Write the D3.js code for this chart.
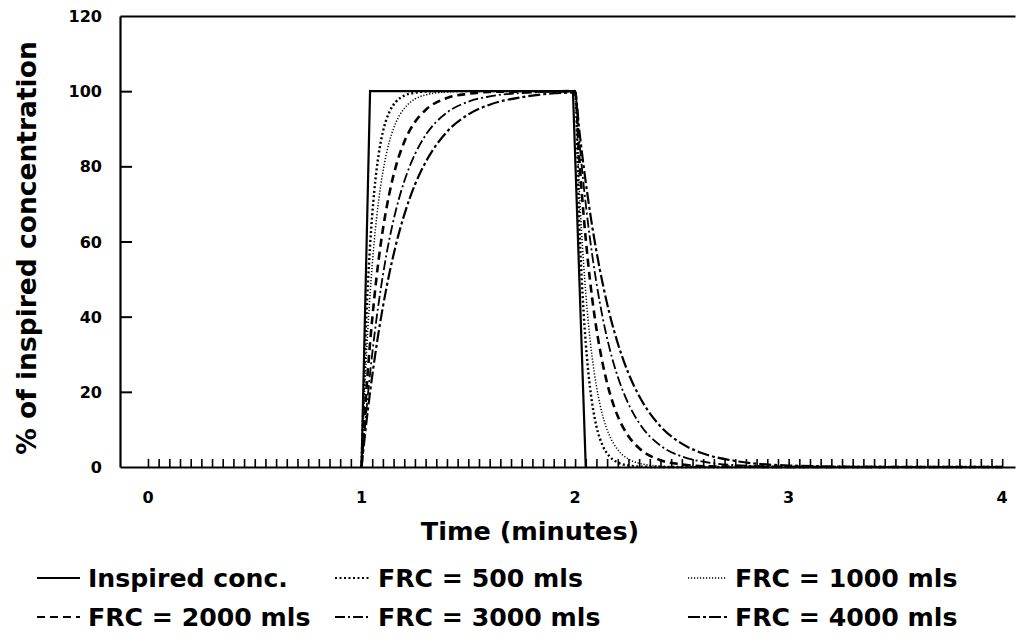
<!DOCTYPE html>
<html lang="en">
<head>
<meta charset="utf-8">
<title>washin washout</title>
<script src="https://d3js.org/d3.v7.min.js"></script>
<style>
body { margin: 0; background: #fff; }
text { font-family: "DejaVu Sans", sans-serif; fill: #000; }
.axis path, .axis line { stroke: #000; }
</style>
</head>
<body>
<script>
// inspired concentration (square step)
var inspTime  = [1.00, 1.04, 1.99, 2.05];
var inspValue = [0, 100, 100, 0];

// FRC curves at these times (minutes)
var frcTime = [1.00, 1.02, 1.04, 1.06, 1.08, 1.10, 1.13, 1.16, 1.20, 1.25, 1.30, 1.40, 1.50, 1.60, 1.75, 2.00,
               2.02, 2.04, 2.06, 2.08, 2.10, 2.13, 2.16, 2.20, 2.25, 2.30, 2.40, 2.50, 2.60, 2.75, 3.00, 3.50, 4.00];
var frc500  = [0, 35.9, 58.9, 73.6, 83.1, 89.2, 94.4, 97.1, 98.8, 99.6, 99.9, 100, 100, 100, 100, 100,
               64.1, 41.1, 26.4, 16.9, 10.8, 5.6, 2.9, 1.2, 0.4, 0.1, 0, 0, 0, 0, 0, 0, 0];
var frc1000 = [0, 26.5, 46.0, 60.3, 70.8, 78.5, 86.5, 91.5, 95.4, 97.9, 99.0, 99.8, 100, 100, 100, 100,
               73.5, 54.0, 39.7, 29.2, 21.5, 13.5, 8.5, 4.6, 2.1, 1.0, 0.2, 0, 0, 0, 0, 0, 0];
var frc2000 = [0, 18.1, 33.0, 45.1, 55.1, 63.2, 72.7, 79.8, 86.5, 91.8, 95.0, 98.2, 99.3, 99.8, 99.9, 100,
               81.9, 67.0, 54.9, 44.9, 36.8, 27.3, 20.2, 13.5, 8.2, 5.0, 1.8, 0.7, 0.2, 0.1, 0, 0, 0];
var frc3000 = [0, 13.3, 24.9, 34.9, 43.5, 51.0, 60.5, 68.1, 76.0, 83.2, 88.3, 94.3, 97.2, 98.6, 99.5, 99.9,
               86.7, 75.1, 65.1, 56.5, 49.0, 39.5, 31.9, 24.0, 16.8, 11.7, 5.7, 2.8, 1.4, 0.5, 0.1, 0, 0];
var frc4000 = [0, 10.5, 19.9, 28.3, 35.9, 42.6, 51.4, 58.9, 67.1, 75.1, 81.1, 89.2, 93.8, 96.4, 98.4, 99.6,
               89.5, 80.1, 71.7, 64.1, 57.4, 48.6, 41.1, 32.9, 24.9, 18.9, 10.8, 6.2, 3.6, 1.6, 0.4, 0, 0];

var xLabels = [0, 1, 2, 3, 4];
var yLabels = [0, 20, 40, 60, 80, 100, 120];
var legendNames = ["Inspired conc.", "FRC = 500 mls", "FRC = 1000 mls",
                   "FRC = 2000 mls", "FRC = 3000 mls", "FRC = 4000 mls"];

var W = 1019, H = 644;
var svg = d3.select("body").append("svg").attr("width", W).attr("height", H);

var x = d3.scaleLinear().domain([-0.131, 4.06]).range([120, 1015]);
var y = d3.scaleLinear().domain([0, 120]).range([467, 16]);

// line styles: solid, coarse dots, fine dots, dashes, long dash, dash-dot
var styles = [
  {dash: null,          w: 2.2},
  {dash: "2,2.5",       w: 2.4},
  {dash: "1.2,1.8",     w: 1.5},
  {dash: "8,5",         w: 2.6},
  {dash: "10,3,2,3",    w: 1.8},
  {dash: "12,3,3,3",    w: 2.2}
];

var series = [
  {t: inspTime, v: inspValue},
  {t: frcTime, v: frc500},
  {t: frcTime, v: frc1000},
  {t: frcTime, v: frc2000},
  {t: frcTime, v: frc3000},
  {t: frcTime, v: frc4000}
];

// axes
var minor = d3.range(0, 81).map(function(i){ return i * 0.05; });
svg.append("g").attr("class", "axis")
   .attr("transform", "translate(0," + y(0) + ")")
   .call(d3.axisBottom(x).tickValues(minor).tickSize(-8).tickSizeOuter(0).tickFormat(""))
   .call(function(g){ g.select(".domain").attr("stroke-width", 2.2); g.selectAll(".tick line").attr("stroke-width", 1.6); });

svg.append("g").attr("class", "axis")
   .attr("transform", "translate(0," + y(120) + ")")
   .call(d3.axisTop(x).tickValues([]).tickSizeOuter(0))
   .call(function(g){ g.select(".domain").attr("stroke-width", 2); });

svg.append("g").attr("class", "axis")
   .attr("transform", "translate(" + x.range()[0] + ",0)")
   .call(d3.axisLeft(y).tickValues([20, 40, 60, 80, 100]).tickSize(-12).tickSizeOuter(0).tickFormat(""))
   .call(function(g){ g.select(".domain").attr("stroke-width", 2.2); g.selectAll(".tick line").attr("stroke-width", 2); });

svg.selectAll(".ylab").data(yLabels).enter().append("text")
   .attr("x", 102).attr("y", function(d){ return y(d) + 6; })
   .attr("text-anchor", "end").attr("font-size", 16).attr("font-weight", "bold")
   .text(function(d){ return d; });

svg.selectAll(".xlab").data(xLabels).enter().append("text")
   .attr("x", function(d){ return x(d); }).attr("y", 503)
   .attr("text-anchor", "middle").attr("font-size", 16).attr("font-weight", "bold")
   .text(function(d){ return d; });

svg.append("text")
   .attr("transform", "translate(36,248) rotate(-90)")
   .attr("text-anchor", "middle").attr("font-size", 26.5).attr("font-weight", "bold")
   .text("% of inspired concentration");

svg.append("text")
   .attr("x", 530).attr("y", 540)
   .attr("text-anchor", "middle").attr("font-size", 25.5).attr("font-weight", "bold")
   .text("Time (minutes)");

// curves
var line = d3.line()
   .x(function(d){ return x(d[0]); })
   .y(function(d){ return y(d[1]); });

series.forEach(function(s, i){
  var pts = s.t.map(function(t, k){ return [t, s.v[k]]; });
  var st = styles[i];
  svg.append("path")
     .datum(pts)
     .attr("fill", "none")
     .attr("stroke", "#000")
     .attr("stroke-width", st.w)
     .attr("stroke-dasharray", st.dash)
     .attr("d", line.curve(i === 0 ? d3.curveLinear : d3.curveMonotoneX));
});

// legend
var legCols = [{x1: 37, x2: 80, tx: 88}, {x1: 335, x2: 371, tx: 378}, {x1: 688, x2: 727, tx: 735}];
var legRows = [587, 626];
legendNames.forEach(function(name, i){
  var c = legCols[i % 3], r = legRows[Math.floor(i / 3)];
  var st = styles[i];
  svg.append("line")
     .attr("x1", c.x1).attr("x2", c.x2).attr("y1", r - 9).attr("y2", r - 9)
     .attr("stroke", "#000").attr("stroke-width", Math.min(st.w, 2))
     .attr("stroke-dasharray", st.dash);
  svg.append("text")
     .attr("transform", "translate(" + c.tx + "," + r + ") scale(1.05,1)")
     .attr("font-size", 24).attr("font-weight", "bold")
     .text(name);
});
</script>
</body>
</html>
